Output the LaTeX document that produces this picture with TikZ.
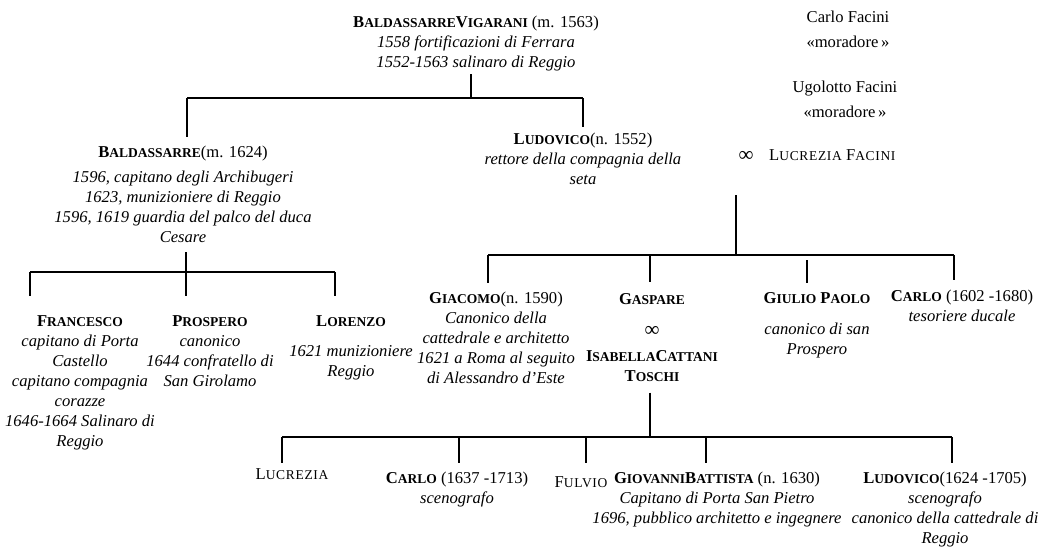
\documentclass[tikz,border=0pt]{standalone}
\usepackage{fontspec}
\setmainfont{Liberation Serif}
\newfontfamily\capsfont{Liberation Serif}[LetterSpace=5]
\usetikzlibrary{positioning}

% names in small capitals
\newcommand\nm[2]{{\bfseries #1{\fontsize{13.5}{20}\selectfont #2}}}
\newcommand\sn[2]{#1{\capsfont\fontsize{13.5}{20}\selectfont #2}}
\newcommand\wedsign{{\fontsize{21}{20}\selectfont ∞}}

\begin{document}
\begin{tikzpicture}[x=1pt, y=-1pt,
  person/.style={align=center, anchor=north, inner xsep=1pt, inner ysep=9pt, font=\fontsize{16.6}{20}\selectfont},
  note/.style={person, inner ysep=3pt},
  wed/.style={inner sep=0pt, font=\fontsize{16.6}{20}\selectfont},
  tree/.style={line width=1.1pt}
]
\useasboundingbox (0,0) rectangle (1041,550);

% Founder
\node[note] (bv) at (476,13) {\nm{B}{ALDASSARRE}\nm{V}{IGARANI} (m. 1563)\\\emph{1558 fortificazioni di Ferrara}\\\emph{1552-1563 salinaro di Reggio}};

% Facini
\node[note] (cf) at (848,8) {Carlo Facini\\[5pt]«moradore\,»};
\node[note] (uf) at (845,78) {Ugolotto Facini\\[5pt]«moradore\,»};

% Sons of the founder
\node[person] (ba) at (183,137) {\nm{B}{ALDASSARRE}(m. 1624)\\[5pt]\emph{1596, capitano degli Archibugeri}\\\emph{1623, munizioniere di Reggio}\\\emph{1596, 1619 guardia del palco del duca}\\\emph{Cesare}};
\node[person, inner ysep=6pt] (ld) at (583,127) {\nm{L}{UDOVICO}(n. 1552)\\\emph{rettore della compagnia della}\\\emph{seta}};
\node[wed] (mar) at (746,156) {\wedsign};
\node[wed, anchor=west] (lf) at (769,155) {\sn{L}{UCREZIA} \sn{F}{ACINI}};

% Children of Baldassarre
\node[person, inner ysep=19pt] (fr) at (80,296) {\nm{F}{RANCESCO}\\\emph{capitano di Porta}\\\emph{Castello}\\\emph{capitano compagnia}\\\emph{corazze}\\\emph{1646-1664 Salinaro di}\\\emph{Reggio}};
\node[person, inner ysep=19pt] (pr) at (210,296) {\nm{P}{ROSPERO}\\\emph{canonico}\\\emph{1644 confratello di}\\\emph{San Girolamo}};
\node[person, inner ysep=19pt] (lo) at (351,296) {\nm{L}{ORENZO}\\[10pt]\emph{1621 munizioniere}\\\emph{Reggio}};

% Children of Ludovico
\node[person] (gi) at (496,283) {\nm{G}{IACOMO}(n. 1590)\\\emph{Canonico della}\\\emph{cattedrale e architetto}\\\emph{1621 a Roma al seguito}\\\emph{di Alessandro d’Este}};
\node[person, inner ysep=11pt] (ga) at (652,282) {\nm{G}{ASPARE}\\[12pt]\wedsign\\[5pt]\nm{I}{SABELLA}\nm{C}{ATTANI}\\\nm{T}{OSCHI}};
\node[person] (gp) at (817,283) {\nm{G}{IULIO} \nm{P}{AOLO}\\[11pt]\emph{canonico di san}\\\emph{Prospero}};
\node[person, inner ysep=10pt] (ca) at (962,280) {\nm{C}{ARLO} (1602 -1680)\\\emph{tesoriere ducale}};

% Children of Gaspare
\node[person, inner ysep=5pt] (lu) at (292,463) {\sn{L}{UCREZIA}};
\node[person] (cb) at (457,463) {\nm{C}{ARLO} (1637 -1713)\\\emph{scenografo}};
\node[person, inner ysep=13pt] (fu) at (581,463) {\sn{F}{ULVIO}};
\node[person] (gb) at (717,463) {\nm{G}{IOVANNI}\nm{B}{ATTISTA} (n. 1630)\\\emph{Capitano di Porta San Pietro}\\\emph{1696, pubblico architetto e ingegnere}};
\node[person] (lv) at (945,463) {\nm{L}{UDOVICO}(1624 -1705)\\\emph{scenografo}\\\emph{canonico della cattedrale di}\\\emph{Reggio}};

% Lines
\coordinate (j0) at (471,98);
\coordinate (m1) at (736,195);
\coordinate (j1) at (186,272);
\coordinate (j3) at (650,437);
\foreach \n/\x in {ba/187, ld/583}
  \coordinate (t-\n) at (\x,98);
\foreach \n/\x in {fr/30, pr/186, lo/335}
  \coordinate (t-\n) at (\x,272);
\foreach \n/\x in {gi/488, ga/650, gp/807, ca/954}
  \coordinate (t-\n) at (\x,255);
\foreach \n/\x in {lu/282, cb/459, fu/586, gb/706, lv/952}
  \coordinate (t-\n) at (\x,437);

\draw[tree] (bv.south -| j0) -- (j0);
\draw[tree] (t-ba) -- (t-ld);
\draw[tree] (ba.south -| j1) -- (j1);
\draw[tree] (t-fr) -- (t-lo);
\draw[tree] (m1) -- (m1 |- t-gi);
\draw[tree] (t-gi) -- (t-ca);
\draw[tree] (ga.south -| j3) -- (j3);
\draw[tree] (t-lu) -- (t-lv);
\foreach \n in {ba, ld, fr, pr, lo, gi, ga, ca, lu, cb, fu, gb, lv}
  \draw[tree] (t-\n) -- (t-\n |- \n.north);
\draw[tree, shorten <=5pt] (t-gp) -- (t-gp |- gp.north);

\end{tikzpicture}
\end{document}
